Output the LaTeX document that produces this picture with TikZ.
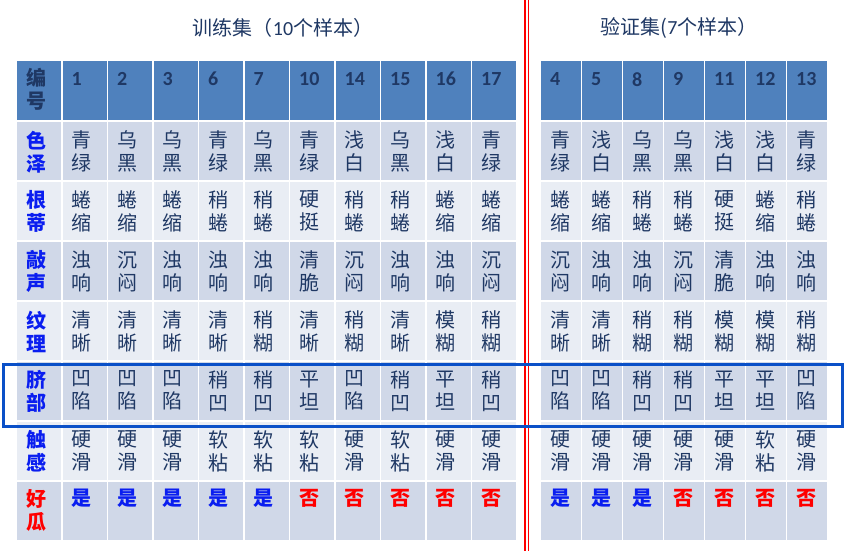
\documentclass[tikz,border=0pt]{standalone}
\usepackage{fontspec}
\setmainfont{Carlito}
\newfontfamily\cjk{Noto Sans CJK SC}
\usetikzlibrary{calc}

\definecolor{headblue}{HTML}{4F81BD}
\definecolor{rowdark}{HTML}{D0D8E8}
\definecolor{rowlight}{HTML}{E9EDF4}
\definecolor{navy}{HTML}{1F3864}
\definecolor{labblue}{HTML}{0A1EF0}
\definecolor{boxblue}{HTML}{0A50C8}
\definecolor{nored}{HTML}{FF0000}

\newcommand\twochar[2]{#1\\#2}

\tikzset{
  cell/.style={anchor=north west, inner sep=0pt, align=left, text=navy,
    font=\fontsize{20}{23}\selectfont\cjk},
  labcell/.style={cell, text=labblue, font=\fontsize{20}{23}\selectfont\cjk\bfseries},
  numcell/.style={anchor=north west, inner sep=0pt, text=navy,
    font=\fontsize{20}{23}\selectfont\bfseries},
  title/.style={text=navy, font=\fontsize{20}{23}\selectfont},
}

\begin{document}
\begin{tikzpicture}[x=1pt,y=-1pt]

\useasboundingbox (0,0) rectangle (846,551);

% cell backgrounds
\foreach \r in {0,...,7}{
  \ifnum\r=0 \def\fc{headblue}\else\ifodd\r \def\fc{rowdark}\else\def\fc{rowlight}\fi\fi
  \foreach \c in {0,...,10}
    \fill[\fc] ({17+45.5*\c},{61.5+60*\r}) rectangle ++(44,58.5);
  \foreach \c in {0,...,6}
    \fill[\fc] ({541+41*\c},{61.5+60*\r}) rectangle ++(40,58.5);
}

% titles
\node[title] (train) at (283,28) {{\cjk 训练集（}10{\cjk 个样本）}};
\node[title] (valid) at (679,28) {{\cjk 验证集(}7{\cjk 个样本）}};

% header row
\node[labcell, text=navy] (lab-0) at (26,68) {\twochar{编}{号}};
\foreach \n [count=\c] in {1,2,3,6,7,10,14,15,16,17}
  \node[numcell] (trn-\c) at ({17+45.5*\c+9},72) {\n};
\foreach \n [count=\c from 0] in {4,5,8,9,11,12,13}
  \node[numcell] (van-\c) at ({541+41*\c+9},72) {\n};

% attribute rows
\foreach \r/\lab/\lv/\rv in {
  1/色泽/{青绿,乌黑,乌黑,青绿,乌黑,青绿,浅白,乌黑,浅白,青绿}/{青绿,浅白,乌黑,乌黑,浅白,浅白,青绿},
  2/根蒂/{蜷缩,蜷缩,蜷缩,稍蜷,稍蜷,硬挺,稍蜷,稍蜷,蜷缩,蜷缩}/{蜷缩,蜷缩,稍蜷,稍蜷,硬挺,蜷缩,稍蜷},
  3/敲声/{浊响,沉闷,浊响,浊响,浊响,清脆,沉闷,浊响,浊响,沉闷}/{沉闷,浊响,浊响,沉闷,清脆,浊响,浊响},
  4/纹理/{清晰,清晰,清晰,清晰,稍糊,清晰,稍糊,清晰,模糊,稍糊}/{清晰,清晰,稍糊,稍糊,模糊,模糊,稍糊},
  5/脐部/{凹陷,凹陷,凹陷,稍凹,稍凹,平坦,凹陷,稍凹,平坦,稍凹}/{凹陷,凹陷,稍凹,稍凹,平坦,平坦,凹陷},
  6/触感/{硬滑,硬滑,硬滑,软粘,软粘,软粘,硬滑,软粘,硬滑,硬滑}/{硬滑,硬滑,硬滑,硬滑,硬滑,软粘,硬滑}}{
  \node[labcell] (lab-\r) at (26,{61.5+60*\r+9}) {\expandafter\twochar\lab};
  \foreach \v [count=\c] in \lv
    \node[cell] (tr-\r-\c) at ({17+45.5*\c+9},{61.5+60*\r+9}) {\expandafter\twochar\v};
  \foreach \v [count=\c from 0] in \rv
    \node[cell] (va-\r-\c) at ({541+41*\c+9},{61.5+60*\r+9}) {\expandafter\twochar\v};
}

% label row
\node[labcell, text=nored] (lab-7) at (26,489) {\twochar{好}{瓜}};
\foreach \col/\v [count=\c] in {labblue/是,labblue/是,labblue/是,labblue/是,labblue/是,nored/否,nored/否,nored/否,nored/否,nored/否}
  \node[labcell, text=\col] (tr-7-\c) at ({17+45.5*\c+9},489) {\v};
\foreach \col/\v [count=\c from 0] in {labblue/是,labblue/是,labblue/是,nored/否,nored/否,nored/否,nored/否}
  \node[labcell, text=\col] (va-7-\c) at ({541+41*\c+9},489) {\v};

% split line
\coordinate (A) at (525,0);
\coordinate (B) at (525,551);
\coordinate (C) at (528.5,0);
\coordinate (D) at (528.5,551);
\draw[nored,line width=1.4] (A)--(B);
\draw[nored,line width=1.4] (C)--(D);

% highlight box
\coordinate (E) at (3,364);
\coordinate (F) at (842.5,426);
\draw[boxblue,line width=3] (E) rectangle (F);

\end{tikzpicture}
\end{document}
